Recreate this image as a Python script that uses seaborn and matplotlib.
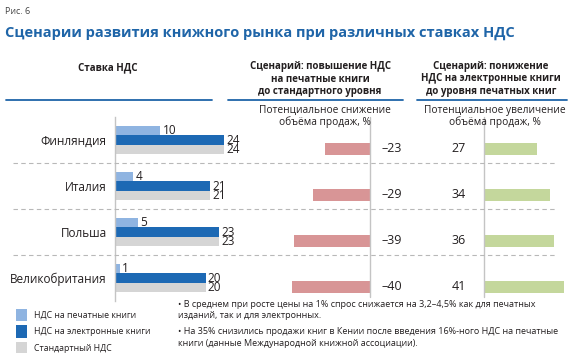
import pandas as pd
import matplotlib.pyplot as plt
import seaborn as sns
from matplotlib.lines import Line2D
from matplotlib.transforms import blended_transform_factory

# данные с рисунка
countries = ['Финляндия', 'Италия', 'Польша', 'Великобритания']
vat_print = [10, 4, 5, 1]
vat_ebook = [24, 21, 23, 20]
vat_standard = [24, 21, 23, 20]
sales_drop = [-23, -29, -39, -40]
sales_rise = [27, 34, 36, 41]
series_names = ['НДС на печатные книги', 'НДС на электронные книги', 'Стандартный НДС']

LIGHT = '#8fb4e1'
DARK = '#1d69b4'
GREY = '#d5d5d5'
RED = '#d89596'
GREEN = '#c4d79c'
BLUE_TITLE = '#1f65a8'
TXT = '#231f20'
LINE = '#c4c4c4'

W, H = 570, 353


def fx(x):
    return x / W


def fy(y):
    return 1 - y / H


def box(x0, y0, x1, y1):
    return [fx(x0), fy(y1), (x1 - x0) / W, (y1 - y0) / H]


sns.set_style('white')
plt.rcParams['font.family'] = ['Open Sans', 'DejaVu Sans']

fig = plt.figure(figsize=(W / 100, H / 100), dpi=100)

rows = []
for name, vals in zip(series_names, [vat_print, vat_ebook, vat_standard]):
    for c, v in zip(countries, vals):
        rows.append({'country': c, 'value': v, 'series': name})
df = pd.DataFrame(rows)

# левая часть: ставки НДС
ax_left = fig.add_axes(box(115, 117, 290, 301))
ax_left.set_facecolor('none')
sns.barplot(data=df, y='country', x='value', hue='series', hue_order=series_names,
            order=countries, palette=[LIGHT, DARK, GREY], width=0.63, orient='h',
            saturation=1, linewidth=0, ax=ax_left)
ax_left.set_xlim(0, 175 / 4.54)
ax_left.set_ylim(3.5, -0.5)
for cont in ax_left.containers:
    ax_left.bar_label(cont, fmt='%d', padding=1.5, fontsize=8.5, color=TXT)
ax_left.set_xlabel('')
ax_left.set_ylabel('')
ax_left.set_xticks([])
ax_left.tick_params(axis='y', length=0, pad=6, labelsize=8.5, labelcolor=TXT)
for s in ['top', 'right', 'bottom']:
    ax_left.spines[s].set_visible(False)
ax_left.spines['left'].set_color(LINE)
ax_left.spines['left'].set_linewidth(1)

sns.move_legend(ax_left, 'upper left', bbox_to_anchor=(fx(16), fy(309)),
                bbox_transform=fig.transFigure, title=None, frameon=False,
                fontsize=6.3, handlelength=1.2, handleheight=1.8,
                labelspacing=0.45, handletextpad=0.8, borderpad=0, borderaxespad=0)
leg = ax_left.get_legend()
for t in leg.get_texts():
    t.set_color(TXT)
for h in leg.legend_handles:
    h.set_linewidth(0)
    h.set_edgecolor('none')

# средняя часть: снижение продаж
ax_red = fig.add_axes(box(250, 126, 370, 310))
ax_red.set_facecolor('none')
sns.barplot(x=sales_drop, y=countries, color=RED, saturation=1, width=0.24,
            orient='h', linewidth=0, ax=ax_red)
ax_red.set_xlim(-120 / 1.95, 0)
ax_red.set_ylim(3.5, -0.5)
ax_red.axis('off')
tr = blended_transform_factory(fig.transFigure, ax_red.transData)
for i, v in enumerate(sales_drop):
    ax_red.text(fx(392), i, f'\u2013{abs(v)}', transform=tr, ha='center', va='center',
                fontsize=9, color=TXT)

# правая часть: рост продаж
ax_green = fig.add_axes(box(484, 126, 570, 310))
ax_green.set_facecolor('none')
sns.barplot(x=sales_rise, y=countries, color=GREEN, saturation=1, width=0.24,
            orient='h', linewidth=0, ax=ax_green)
ax_green.set_xlim(0, 86 / 1.95)
ax_green.set_ylim(3.5, -0.5)
ax_green.axis('off')
tr = blended_transform_factory(fig.transFigure, ax_green.transData)
for i, v in enumerate(sales_rise):
    ax_green.text(fx(459), i, str(v), transform=tr, ha='center', va='center',
                  fontsize=9, color=TXT)

# вертикальные линии и пунктирные разделители
for x in [370, 484]:
    fig.add_artist(Line2D([fx(x), fx(x)], [fy(117), fy(297)], color=LINE, lw=1))
tr = blended_transform_factory(fig.transFigure, ax_left.transData)
for k in range(len(countries) - 1):
    fig.add_artist(Line2D([fx(13), fx(557)], [k + 0.5, k + 0.5], transform=tr,
                          color='#b8b8b8', lw=0.8, ls=(0, (4, 3))))

# заголовки
fig.text(fx(5), fy(11), 'Рис. 6', fontsize=6.5, color='#444444', va='center')
fig.text(fx(5), fy(33), 'Сценарии развития книжного рынка при различных ставках НДС',
         fontsize=10.5, fontweight='bold', color=BLUE_TITLE, va='center')

fig.text(fx(108), fy(68), 'Ставка НДС', fontsize=7, fontweight='bold', color=TXT,
         ha='center', va='center')
fig.text(fx(320), fy(79), 'Сценарий: повышение НДС\nна печатные книги\nдо стандартного уровня',
         fontsize=7, fontweight='bold', color=TXT, ha='center', va='center',
         linespacing=1.15)
fig.text(fx(491), fy(79), 'Сценарий: понижение\nНДС на электронные книги\nдо уровня печатных книг',
         fontsize=7, fontweight='bold', color=TXT, ha='center', va='center',
         linespacing=1.15)
for x0, x1 in [(6, 212), (228, 403), (417, 567)]:
    fig.add_artist(Line2D([fx(x0), fx(x1)], [fy(99.5), fy(99.5)], color=BLUE_TITLE, lw=1.3))

fig.text(fx(325), fy(116.5), 'Потенциальное снижение\nобъёма продаж, %', fontsize=7.3,
         color=TXT, ha='center', va='center', linespacing=1.05)
fig.text(fx(495), fy(116.5), 'Потенциальное увеличение\nобъёма продаж, %', fontsize=7.3,
         color=TXT, ha='center', va='center', linespacing=1.05)

# примечания
fig.text(fx(178), fy(310), '• В среднем при росте цены на 1% спрос снижается на 3,2–4,5% как для печатных\n'
         'изданий, так и для электронных.', fontsize=6.45, color=TXT, va='center', linespacing=1.35)
fig.text(fx(178), fy(337.5), '• На 35% снизились продажи книг в Кении после введения 16%-ного НДС на печатные\n'
         'книги (данные Международной книжной ассоциации).', fontsize=6.45, color=TXT, va='center',
         linespacing=1.35)

fig.savefig('out.png', dpi=100)
